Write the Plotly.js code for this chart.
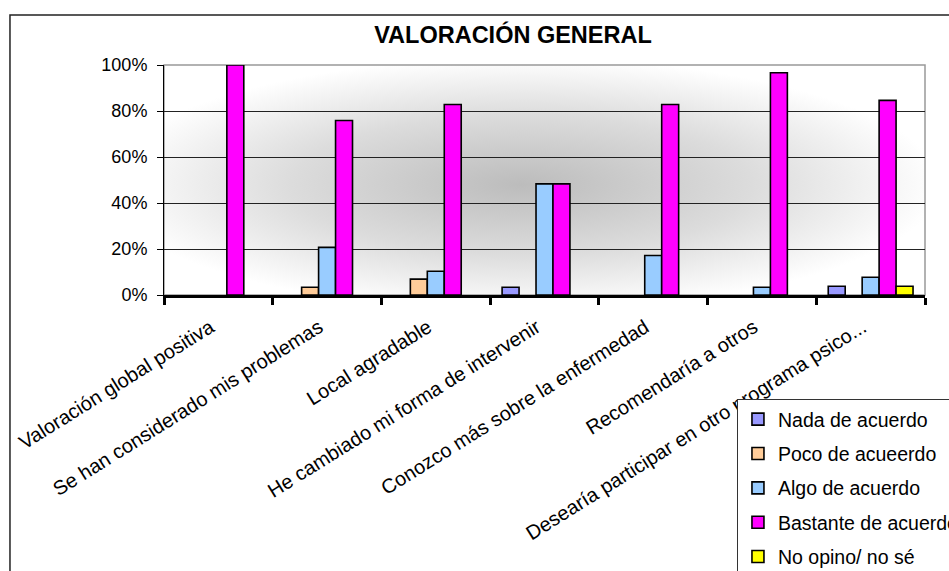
<!DOCTYPE html>
<html>
<head>
<meta charset="utf-8">
<script src="https://cdn.plot.ly/plotly-3.0.1.min.js"></script>
<style>html,body{margin:0;padding:0;background:#fff;}#chart{width:949px;height:571px;}</style>
</head>
<body>
<div id="chart"></div>
<script>
const categories = [
  "Valoración global positiva",
  "Se han considerado mis problemas",
  "Local agradable",
  "He cambiado mi forma de intervenir",
  "Conozco más sobre la enfermedad",
  "Recomendaría a otros",
  "Desearía participar en otro programa psico..."
];
const seriesNames = ["Nada de acuerdo", "Poco de acueerdo", "Algo de acuerdo", "Bastante de acuerdo", "No opino/ no sé"];
// null = no bar drawn for that category
const nada     = [null, null, null, 3.4, null, null, 3.8];
const poco     = [null, 3.4, 6.9, null, null, null, null];
const algo     = [null, 20.7, 10.3, 48.3, 17.2, 3.4, 7.7];
const bastante = [100, 75.9, 82.8, 48.3, 82.8, 96.6, 84.6];
const noOpino  = [null, null, null, null, null, null, 3.8];
const yTicks = [0, 20, 40, 60, 80, 100];

const seriesValues = [nada, poco, algo, bastante, noOpino];
const colors = ["#9999FF", "#FFCC99", "#99CCFF", "#FF00FF", "#FFFF00"];
const FONT = "Liberation Sans, Arial, sans-serif";

const traces = seriesNames.map((name, i) => ({
  type: "bar",
  name: name,
  x: categories,
  y: seriesValues[i],
  legendgroup: "g" + i,
  marker: {color: colors[i], line: {color: "#000", width: 1.6}},
  hoverinfo: "x+y+name"
}));

const boundaries = categories.map((c, i) => i - 0.5).concat([categories.length - 0.5]);

const gradSvg = "<svg xmlns='http://www.w3.org/2000/svg' width='100' height='100' viewBox='0 0 100 100' preserveAspectRatio='none'>" +
  "<defs><radialGradient id='g' cx='0.47' cy='0.52' r='0.55'>" +
  "<stop offset='0' stop-color='#bcbcbc'/><stop offset='0.55' stop-color='#dcdcdc'/><stop offset='1' stop-color='#ffffff'/>" +
  "</radialGradient></defs><rect width='100' height='100' fill='url(#g)'/></svg>";

const layout = {
  width: 949, height: 571,
  margin: {l: 164, r: 24, t: 65, b: 276, autoexpand: false},
  paper_bgcolor: "#ffffff",
  plot_bgcolor: "rgba(0,0,0,0)",
  font: {family: FONT, color: "#000", size: 16},
  title: {
    text: "<b>VALORACIÓN GENERAL</b>",
    font: {family: FONT, size: 23.5, color: "#000"},
    x: 0.4586, xref: "paper", xanchor: "center",
    y: 1 - 35 / 571, yref: "container", yanchor: "middle"
  },
  barmode: "group",
  bargap: 0.22,
  bargroupgap: 0,
  showlegend: true,
  legend: {
    x: 0.7529, y: -0.452, xanchor: "left", yanchor: "top",
    xref: "paper", yref: "paper",
    bgcolor: "#ffffff", bordercolor: "#333", borderwidth: 1,
    font: {family: FONT, size: 19.5, color: "#000"},
    traceorder: "grouped", tracegroupgap: 6
  },
  xaxis: {
    type: "category",
    tickson: "boundaries",
    ticks: "outside", ticklen: 7, tickwidth: 2.5, tickcolor: "#000",
    tickangle: -32,
    ticklabelshift: -8,
    ticklabelstandoff: 10,
    tickfont: {family: FONT, size: 20, color: "#000"},
    showline: true, linecolor: "#000", linewidth: 3,
    showgrid: false, zeroline: false
  },
  xaxis2: {
    overlaying: "x", anchor: "y", side: "bottom", type: "linear",
    range: [-0.5, categories.length - 0.5],
    tickmode: "array", tickvals: boundaries,
    ticks: "inside", ticklen: 7, tickwidth: 2.5, tickcolor: "#000",
    showticklabels: false, showgrid: false, showline: false, zeroline: false
  },
  yaxis: {
    range: [0, 100],
    tickmode: "array", tickvals: yTicks, ticktext: yTicks.map(v => v + "%"),
    ticks: "outside", ticklen: 6, tickcolor: "#000", tickwidth: 1,
    ticklabelstandoff: 6,
    tickfont: {family: FONT, size: 18, color: "#000"},
    showline: true, linecolor: "#000", linewidth: 1,
    showgrid: true, gridcolor: "#222", gridwidth: 1,
    zeroline: false
  },
  images: [{
    source: "data:image/svg+xml;charset=utf-8," + encodeURIComponent(gradSvg),
    xref: "paper", yref: "paper", x: 0, y: 1, sizex: 1, sizey: 1,
    sizing: "stretch", xanchor: "left", yanchor: "top", layer: "below"
  }],
  shapes: [
    {type: "rect", xref: "paper", yref: "paper", x0: 0, x1: 1, y0: 0, y1: 1,
     line: {color: "#999", width: 1.5}, fillcolor: "rgba(0,0,0,0)", layer: "between"},
    {type: "rect", xref: "paper", yref: "paper", x0: -0.2024, x1: 1.2, y0: -2, y1: 1.2174,
     line: {color: "#222", width: 1.5}, fillcolor: "rgba(0,0,0,0)", layer: "above"}
  ]
};

Plotly.newPlot("chart", traces, layout, {displayModeBar: false, responsive: false});
</script>
</body>
</html>
